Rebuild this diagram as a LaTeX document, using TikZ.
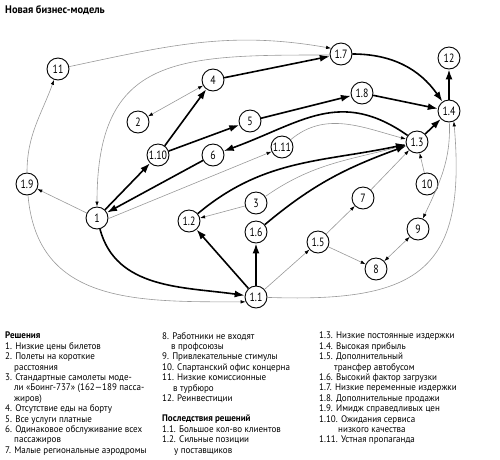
\documentclass[tikz,border=0pt]{standalone}
\usepackage{fontspec}
\setmainfont{PT Sans}[FakeStretch=0.95]
\newfontfamily\numfont{PT Sans}[FakeStretch=0.82]
\usetikzlibrary{arrows.meta}

\begin{document}
\begin{tikzpicture}[x=1pt,y=-1pt,
  nd/.style={circle,draw,line width=0.9pt,minimum size=22pt,inner sep=0pt,font=\numfont\fontsize{12}{12}\selectfont},
  strong/.style={line width=1.6pt,-{Latex[length=10pt,width=7pt]}},
  weak/.style={draw=black!40,line width=0.6pt,-{Latex[length=5pt,width=3.5pt,color=black]}},
  weakboth/.style={weak,{Latex[length=5pt,width=3.5pt,color=black]}-{Latex[length=5pt,width=3.5pt,color=black]}},
  legend/.style={anchor=north west,inner sep=0pt,align=left,font=\fontsize{9.5}{10.4}\selectfont}]
  \useasboundingbox (0,0) rectangle (500,459);
  \node[anchor=west,inner sep=0pt,font=\bfseries\fontsize{11}{11}\selectfont] (title) at (5,10) {Новая бизнес-модель};

  \node[nd] (d11) at (58,69) {11};
  \node[nd] (c7) at (341,54) {1.7};
  \node[nd] (d12) at (449,58) {12};
  \node[nd] (d4) at (213,80) {4};
  \node[nd] (d2) at (138,122) {2};
  \node[nd] (c8) at (362,93) {1.8};
  \node[nd] (c4) at (449,111) {1.4};
  \node[nd] (d5) at (250,121) {5};
  \node[nd] (c10) at (158,155) {1.10};
  \node[nd] (d6) at (213,155) {6};
  \node[nd] (c11) at (282,147) {1.11};
  \node[nd] (c3) at (417,142) {1.3};
  \node[nd] (c9) at (27,184) {1.9};
  \node[nd] (d1) at (97,218) {1};
  \node[nd] (d10) at (427,184) {10};
  \node[nd] (d3) at (256,203) {3};
  \node[nd] (c2) at (189,221) {1.2};
  \node[nd] (d7) at (363,198) {7};
  \node[nd] (c6) at (256,232) {1.6};
  \node[nd] (d9) at (418,229) {9};
  \node[nd] (c5) at (318,242) {1.5};
  \node[nd] (d8) at (376,269) {8};
  \node[nd] (c1) at (256,297) {1.1};

  \draw[weak] (d1) -- (c9);
  \draw[weak] (c9) to[out=90,in=-110] (d11);
  \draw[weak] (c9) to[out=-85,in=180,looseness=1.15] (c1.205);
  \draw[weak] (d11) to[out=12,in=170] (c7.150);
  \draw[weak] (c7.185) to[out=180,in=90,looseness=1.4] (d1);
  \draw[weakboth] (d2) -- (d4);
  \draw[weak] (d1.-3) -- (c11.204);
  \draw[weak] (c11) to[out=40,in=165] (c3);
  \draw[weak] (d3) to[out=35,in=195] (c3);
  \draw[weak] (d3) -- (c2);
  \draw[weak] (d7) -- (c3);
  \draw[weak] (d10) -- (c3);
  \draw[weak] (c4) to[out=-88,in=65] (d9);
  \draw[weak] (c1) to[out=-2,in=-85,looseness=1.5] (c4.-65);
  \draw[weak] (c1) -- (c5);
  \draw[weak] (c5) -- (d7);
  \draw[weak] (c5) -- (d8);
  \draw[weakboth] (d8) -- (d9);

  \draw[strong] (d1) -- (c10);
  \draw[strong] (c10) -- (d4);
  \draw[strong] (c10) -- (d5);
  \draw[strong] (d4) -- (c7);
  \draw[strong] (d5) -- (c8);
  \draw[strong] (c8) -- (c4);
  \draw[strong] (c7) to[out=0,in=125] (c4);
  \draw[strong] (c4) -- (d12);
  \draw[strong] (c3) -- (c4);
  \draw[strong] (c3) to[out=145,in=20,looseness=1.15] (d6);
  \draw[strong] (c2) to[out=40,in=192] (c3);
  \draw[strong] (c6) to[out=40,in=200] (c3);
  \draw[strong] (c1) -- (c2);
  \draw[strong] (c1) -- (c6);
  \draw[strong] (d1) to[out=-75,in=172] (c1);
  \draw[strong] (d6) -- (d1);

  \node[legend] (sol) at (5,332) {\textbf{Решения}\\
    1. Низкие цены билетов\\
    2. Полеты на короткие\\
    \hspace*{9pt}расстояния\\
    3. Стандартные самолеты моде-\\
    \hspace*{9pt}ли «Боинг-737» (162—189 пасса-\\
    \hspace*{9pt}жиров)\\
    4. Отсутствие еды на борту\\
    5. Все услуги платные\\
    6. Одинаковое обслуживание всех\\
    \hspace*{9pt}пассажиров\\
    7. Малые региональные аэродромы};
  \node[legend] (solb) at (162,332) {8. Работники не входят\\
    \hspace*{9pt}в профсоюзы\\
    9. Привлекательные стимулы\\
    10. Спартанский офис концерна\\
    11. Низкие комиссионные\\
    \hspace*{11pt}в турбюро\\
    12. Реинвестиции};
  \node[legend] (res) at (162,415) {\textbf{Последствия решений}\\
    1.1. Большое кол-во клиентов\\
    1.2. Сильные позиции\\
    \hspace*{12pt}у поставщиков};
  \node[legend] (resb) at (319,332) {1.3. Низкие постоянные издержки\\
    1.4. Высокая прибыль\\
    1.5. Дополнительный\\
    \hspace*{15pt}трансфер автобусом\\
    1.6. Высокий фактор загрузки\\
    1.7. Низкие переменные издержки\\
    1.8. Дополнительные продажи\\
    1.9. Имидж справедливых цен\\
    1.10. Ожидания сервиса\\
    \hspace*{19pt}низкого качества\\
    1.11. Устная пропаганда};
\end{tikzpicture}
\end{document}
